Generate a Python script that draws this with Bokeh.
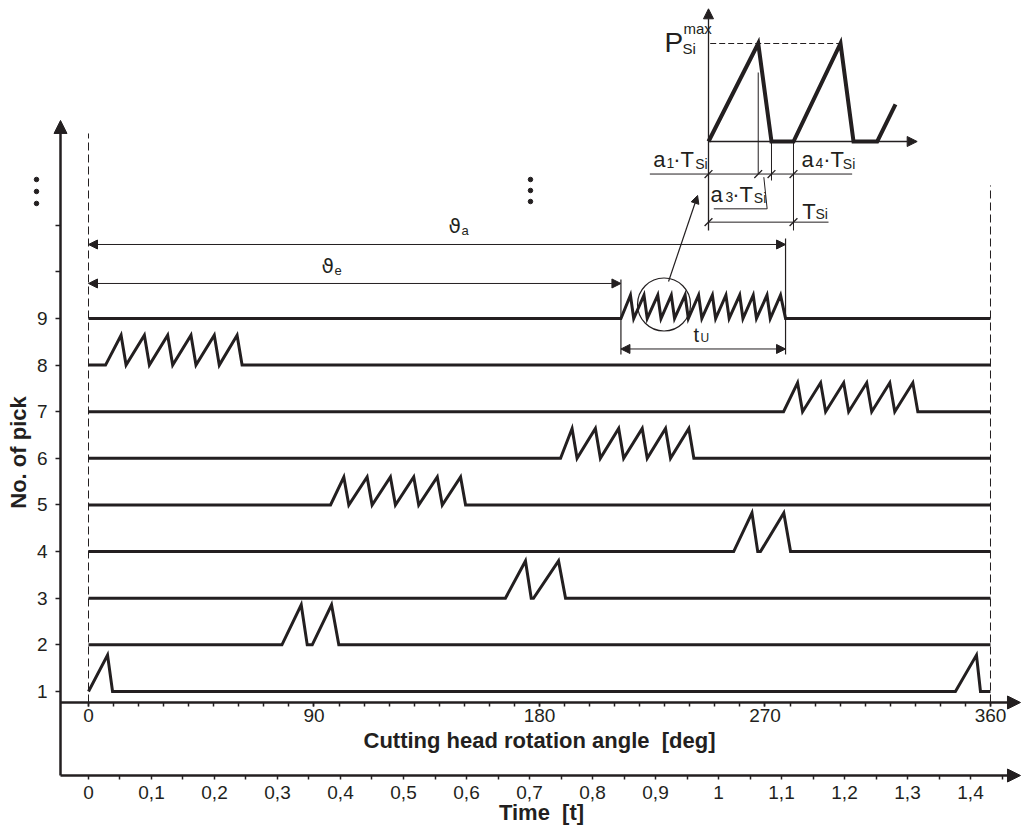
from math import pi
from bokeh.plotting import figure
from bokeh.models import (Range1d, LinearAxis, FixedTicker, Arrow, NormalHead, Label)
from bokeh.embed import file_html
from bokeh.resources import INLINE

INK = "#231f20"
FONT = "Liberation Sans"

# ---------------- data ----------------
pick_no = [1, 2, 3, 4, 5, 6, 7, 8, 9]
pulse_height = [0.78, 0.86, 0.80, 0.83, 0.60, 0.64, 0.62, 0.64, 0.50]
rise_start = [
    [0.0, 346.0],
    [77.2, 89.3],
    [166.4, 177.6],
    [257.5, 268.2],
    [96.6, 103.9, 113.2, 122.5, 131.8, 141.2],
    [188.4, 195.0, 204.3, 213.6, 223.0, 232.3],
    [277.4, 285.0, 294.2, 303.4, 312.6, 321.8],
    [6.8, 15.0, 24.3, 33.6, 42.9, 52.2],
    [212.5, 217.6, 223.0, 228.5, 233.9, 239.4, 244.8, 250.3, 255.7, 261.2, 266.6, 272.1],
]
peak_angle = [
    [7.6, 354.4],
    [84.9, 97.0],
    [174.4, 187.6],
    [264.8, 277.5],
    [101.9, 111.2, 120.5, 129.8, 139.2, 148.5],
    [193.0, 202.3, 211.6, 221.0, 230.3, 239.6],
    [283.0, 292.2, 301.4, 310.6, 319.8, 329.0],
    [13.0, 22.3, 31.6, 40.9, 50.2, 59.3],
    [216.3, 221.7, 227.2, 232.6, 238.1, 243.5, 249.0, 254.4, 259.9, 265.3, 270.8, 276.2],
]
fall_end = [
    [9.6, 356.0],
    [87.3, 99.9],
    [176.7, 190.4],
    [267.1, 280.2],
    [103.9, 113.2, 122.5, 131.8, 141.2, 150.5],
    [195.0, 204.3, 213.6, 223.0, 232.3, 241.6],
    [285.0, 294.2, 303.4, 312.6, 321.8, 331.0],
    [15.0, 24.3, 33.6, 42.9, 52.2, 61.3],
    [217.6, 223.0, 228.5, 233.9, 239.4, 244.8, 250.3, 255.7, 261.2, 266.6, 272.1, 278.2],
]
rotation_start = 0.0
rotation_end = 360.0
theta_e = 212.5
theta_a = 278.2

angle_ticks = [0, 90, 180, 270, 360]
angle_minor_ticks = [0, 10, 20, 30, 40, 50, 60, 70, 80, 90, 100, 110, 120, 130, 140, 150,
                     160, 170, 180, 190, 200, 210, 220, 230, 240, 250, 260, 270, 280, 290,
                     300, 310, 320, 330, 340, 350, 360]
time_ticks = [0, 0.1, 0.2, 0.3, 0.4, 0.5, 0.6, 0.7, 0.8, 0.9, 1.0, 1.1, 1.2, 1.3, 1.4]
time_labels = ["0", "0,1", "0,2", "0,3", "0,4", "0,5", "0,6", "0,7", "0,8", "0,9",
               "1", "1,1", "1,2", "1,3", "1,4"]
time_minor_ticks = [0.05, 0.15, 0.25, 0.35, 0.45, 0.55, 0.65, 0.75, 0.85, 0.95,
                    1.05, 1.15, 1.25, 1.35, 1.45]
pick_ticks = [1, 2, 3, 4, 5, 6, 7, 8, 9, 10, 11]
pick_labels = {10: "", 11: ""}

# inset: one pick force P_Si / P_Si_max against time in units of T_Si
inset_t = [0.0, 0.585, 0.741, 1.0, 1.553, 1.706, 1.985, 2.2]
inset_p = [0.0, 1.0, 0.0, 0.0, 1.0, 0.0, 0.0, 0.378]

# ---------------- layout constants ----------------
X_RANGE = (-35.122, 373.570)
Y_RANGE = (-1.960, 15.820)
TIME_RANGE = (-0.13968, 1.48571)
INSET_T_RANGE = (-8.32941, 3.71765)
INSET_P_RANGE = (-7.02041, 1.43878)
AXIS_X = -11.175
DEG_AXIS_Y = 0.764
TIME_AXIS_Y = -0.802
AXIS_TOP = 13.247
AXIS_RIGHT = 371.97

p = figure(width=1024, height=829, x_range=Range1d(*X_RANGE), y_range=Range1d(*Y_RANGE),
           x_axis_type=None, y_axis_type=None, output_backend="svg", toolbar_location=None,
           min_border_left=0, min_border_right=0, min_border_top=0, min_border_bottom=0)
p.extra_x_ranges = {"time": Range1d(*TIME_RANGE), "it": Range1d(*INSET_T_RANGE)}
p.extra_y_ranges = {"ip": Range1d(*INSET_P_RANGE)}
p.outline_line_color = None
p.background_fill_color = "white"
p.border_fill_color = "white"


def style_axis(ax, tick_out=4):
    ax.axis_line_color = None
    ax.major_tick_line_color = INK
    ax.minor_tick_line_color = INK
    ax.major_tick_line_width = 1.5
    ax.minor_tick_line_width = 1.5
    ax.major_tick_in = 0
    ax.minor_tick_in = 0
    ax.major_tick_out = tick_out
    ax.minor_tick_out = tick_out
    ax.major_label_text_font = FONT
    ax.major_label_text_font_size = "19px"
    ax.major_label_text_color = INK


deg_axis = LinearAxis(fixed_location=DEG_AXIS_Y,
                      ticker=FixedTicker(ticks=angle_ticks, minor_ticks=angle_minor_ticks),
                      major_label_standoff=3)
style_axis(deg_axis)
p.add_layout(deg_axis, "below")

time_axis = LinearAxis(x_range_name="time", fixed_location=TIME_AXIS_Y,
                       ticker=FixedTicker(ticks=time_ticks, minor_ticks=time_minor_ticks),
                       major_label_overrides=dict(zip(time_ticks, time_labels)),
                       major_label_standoff=6)
style_axis(time_axis)
p.add_layout(time_axis, "below")

pick_axis = LinearAxis(fixed_location=AXIS_X, ticker=FixedTicker(ticks=pick_ticks),
                       major_label_overrides=pick_labels, major_label_standoff=8)
style_axis(pick_axis, tick_out=5)
p.add_layout(pick_axis, "left")


def head(size):
    return NormalHead(size=size, fill_color=INK, line_color=INK, line_width=1)


for x0, y0, x1, y1 in [(AXIS_X, TIME_AXIS_Y, AXIS_X, AXIS_TOP),
                       (AXIS_X, DEG_AXIS_Y, AXIS_RIGHT, DEG_AXIS_Y),
                       (AXIS_X, TIME_AXIS_Y, AXIS_RIGHT, TIME_AXIS_Y)]:
    p.add_layout(Arrow(end=head(13), x_start=x0, y_start=y0, x_end=x1, y_end=y1,
                       line_color=INK, line_width=2.5))

# axis titles
p.add_layout(Label(x=180, y=-0.06, text="Cutting head rotation angle\u00a0 [deg]",
                   text_font=FONT, text_font_size="22px", text_font_style="bold",
                   text_align="center", text_baseline="alphabetic", text_color=INK))
p.add_layout(Label(x=180.8, y=-1.60, text="Time\u00a0 [t]",
                   text_font=FONT, text_font_size="22px", text_font_style="bold",
                   text_align="center", text_baseline="alphabetic", text_color=INK))
p.add_layout(Label(x=-27.94, y=6.126, text="No. of pick", angle=pi / 2,
                   text_font=FONT, text_font_size="22px", text_font_style="bold",
                   text_align="center", text_baseline="middle", text_color=INK))

# ---------------- pick traces ----------------
xs, ys = [], []
for n, h, rs, pk, fe in zip(pick_no, pulse_height, rise_start, peak_angle, fall_end):
    x = [rotation_start]
    y = [n]
    for a, b, c in zip(rs, pk, fe):
        x += [a, b, c]
        y += [n, n + h, n]
    x.append(rotation_end)
    y.append(n)
    xs.append(x)
    ys.append(y)
p.multi_line(xs=xs, ys=ys, line_color=INK, line_width=3, line_join="miter")

# rotation start / end dashed lines
p.segment(x0=[rotation_start, rotation_end], y0=[DEG_AXIS_Y, DEG_AXIS_Y],
          x1=[rotation_start, rotation_end], y1=[12.968, 11.853],
          line_color=INK, line_width=1, line_dash="8 4")

# dimension lines theta_e, theta_a, t_U
for xa, xb, yy in [(rotation_start, theta_a, 10.587), (rotation_start, theta_e, 9.751),
                   (theta_e, theta_a, 8.346)]:
    p.add_layout(Arrow(start=head(9), end=head(9), x_start=xa, y_start=yy, x_end=xb, y_end=yy,
                       line_color=INK, line_width=1))
p.segment(x0=[theta_e, theta_a], y0=[9.836, 10.716], x1=[theta_e, theta_a], y1=[8.228, 8.228],
          line_color=INK, line_width=1.2)

# magnifier circle and pointer
p.scatter(x=[229.7], y=[9.30], marker="circle", size=53, fill_color=None,
          line_color=INK, line_width=1.2)
p.add_layout(Arrow(end=head(8), x_start=231.5, y_start=9.794, x_end=243.1, y_end=11.638,
                   line_color=INK, line_width=1.2))

# "more picks" dots
p.scatter(x=[-20.75, -20.75, -20.75, 176.4, 176.4, 176.4],
          y=[11.981, 11.724, 11.467, 11.981, 11.745, 11.509],
          marker="circle", size=4.5, color=INK)


def txt(x, y, s, size, font=FONT, **kw):
    p.add_layout(Label(x=x, y=y, text=s, text_font=font, text_font_size=size,
                       text_align="left", text_baseline="alphabetic", text_color=INK, **kw))


# greek / subscript labels
txt(143.7, 10.973, "ϑ", "20px", font="DejaVu Sans")
txt(148.9, 10.887, "a", "13px")
txt(93.0, 10.115, "ϑ", "20px", font="DejaVu Sans")
txt(98.2, 10.029, "e", "13px")
txt(241.5, 8.655, "t", "20px")
txt(244.3, 8.591, "U", "12px")

# ---------------- inset ----------------
IR = dict(x_range_name="it", y_range_name="ip")
p.line(inset_t, inset_p, line_color=INK, line_width=4, line_join="miter", **IR)
p.add_layout(Arrow(end=head(10), x_start=0, y_start=-0.908, x_end=0, y_end=1.354,
                   line_color=INK, line_width=1.3, **IR))
p.add_layout(Arrow(end=head(10), x_start=0, y_start=0, x_end=2.455, y_end=0,
                   line_color=INK, line_width=1.3, **IR))
p.line([0.02, inset_t[4]], [1.0, 1.0], line_color=INK, line_width=1, line_dash="6 3", **IR)
p.segment(x0=[inset_t[1], inset_t[2], inset_t[3]], y0=[0.704, 0.0, 0.0],
          x1=[inset_t[1], inset_t[2], inset_t[3]], y1=[-0.33, -0.398, -0.908],
          line_color=INK, line_width=1, **IR)
p.line([0.651, 0.690, 0.062], [-0.364, -0.687, -0.687], line_color=INK, line_width=1, **IR)
p.segment(x0=[-0.690, 0.0], y0=[-0.332, -0.823], x1=[1.690, 1.412], y1=[-0.332, -0.823],
          line_color=INK, line_width=1, **IR)
p.scatter(x=[0.0, inset_t[1], inset_t[2], inset_t[3], 0.0, inset_t[3]],
          y=[-0.332, -0.332, -0.332, -0.332, -0.823, -0.823],
          marker="dash", angle=pi / 4, size=11, line_color=INK, line_width=1.3, **IR)

for s, x, y, size in [("P", -0.518, 1.011, "28px"), ("max", -0.294, 1.158, "15px"),
                      ("Si", -0.306, 0.954, "15px"),
                      ("a", -0.651, -0.182, "22px"), ("1", -0.494, -0.216, "14px"),
                      ("·T", -0.415, -0.182, "22px"), ("Si", -0.156, -0.233, "14px"),
                      ("a", 1.094, -0.182, "22px"), ("4", 1.259, -0.216, "14px"),
                      ("·T", 1.349, -0.182, "22px"), ("Si", 1.58, -0.233, "14px"),
                      ("a", 0.024, -0.539, "22px"), ("3", 0.20, -0.563, "14px"),
                      ("·T", 0.279, -0.539, "22px"), ("Si", 0.533, -0.580, "14px"),
                      ("T", 1.102, -0.719, "22px"), ("Si", 1.259, -0.743, "14px")]:
    txt(x, y, s, size, **IR)

open("out.html", "w").write(file_html(p, INLINE))
